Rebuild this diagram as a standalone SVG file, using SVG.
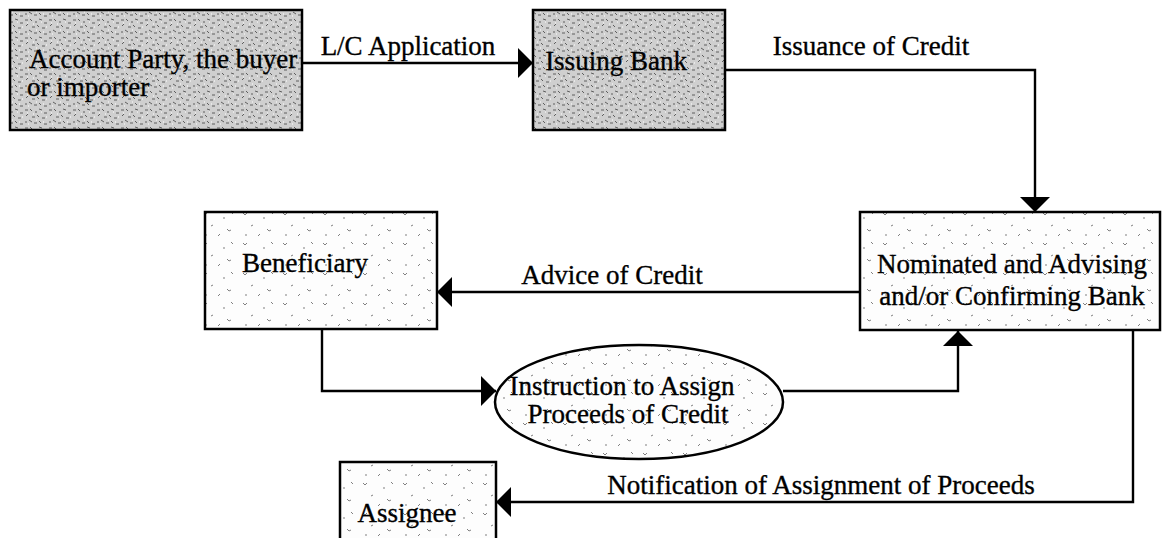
<svg xmlns="http://www.w3.org/2000/svg" width="1164" height="538" viewBox="0 0 1164 538">
  <style>
    .box { stroke: #000; stroke-width: 2.5; }
    .dense { fill: url(#speckleDense); }
    .light { fill: url(#speckleLight); }
    .label { font-family: "Liberation Serif", "Times New Roman", serif; font-size: 27px; fill: #000; stroke: #000; stroke-width: 0.35; }
    .mid { text-anchor: middle; }
    .wire { fill: none; stroke: #000; stroke-width: 2.4; }
  </style>
  <defs>
    <!-- grainy fill for the upper boxes -->
    <pattern id="speckleDense" width="24" height="18" patternUnits="userSpaceOnUse">
      <rect width="24" height="18" fill="#cfcfcf"/>
      <path d="M1 2h3M6 1l2 2M11 4h2M15 1l3 1M20 5h3M2 8l2-2M8 9h3M13 7l2 2M18 10h3M1 14h2M5 12l3 2M10 15h3M15 13l2 2M20 16h3" stroke="#5e5e5e" stroke-width="1" fill="none"/>
      <path d="M3 5h1M9 6h1M17 4h1M22 9h1M4 16h1M12 12h1M19 14h1" stroke="#fff" stroke-width="1"/>
    </pattern>
    <!-- sparse speckles for the other shapes -->
    <pattern id="speckleLight" width="40" height="30" patternUnits="userSpaceOnUse">
      <rect width="40" height="30" fill="#fdfdfd"/>
      <path d="M3 3l2 2 2-2M23 8h2M31 2l2 2M11 16l2-1M27 19l2 2 2-1M5 25h2M18 26l2-2" stroke="#808080" stroke-width="1" fill="none"/>
    </pattern>
    <marker id="head" markerUnits="userSpaceOnUse" markerWidth="15" markerHeight="30" viewBox="0 0 15 30" refX="15" refY="15" orient="auto">
      <path d="M0 0L15 15L0 30Z" fill="#000"/>
    </marker>
  </defs>

  <g id="connectors">
    <path class="wire" d="M302 63H533" marker-end="url(#head)"/>
    <path class="wire" d="M725 70H1035V212" marker-end="url(#head)"/>
    <path class="wire" d="M860 292H437" marker-end="url(#head)"/>
    <path class="wire" d="M322 329V391H496" marker-end="url(#head)"/>
    <path class="wire" d="M783 391H958V331" marker-end="url(#head)"/>
    <path class="wire" d="M1133 330V502H496" marker-end="url(#head)"/>
    <text class="label mid" x="408" y="55">L/C Application</text>
    <text class="label mid" x="871" y="55">Issuance of Credit</text>
    <text class="label mid" x="612" y="284">Advice of Credit</text>
    <text class="label mid" x="821" y="494">Notification of Assignment of Proceeds</text>
  </g>

  <g id="account-party">
    <rect class="box dense" x="10" y="10" width="292" height="120"/>
    <text class="label" x="29" y="68">Account Party, the buyer</text>
    <text class="label" x="27" y="96">or importer</text>
  </g>

  <g id="issuing-bank">
    <rect class="box dense" x="533" y="10" width="192" height="120"/>
    <text class="label mid" x="616" y="70">Issuing Bank</text>
  </g>

  <g id="nominated-bank">
    <rect class="box light" x="860" y="212" width="300" height="118"/>
    <text class="label mid" x="1012" y="273">Nominated and Advising</text>
    <text class="label mid" x="1012" y="305">and/or Confirming Bank</text>
  </g>

  <g id="beneficiary">
    <rect class="box light" x="205" y="212" width="232" height="117"/>
    <text class="label mid" x="305" y="272">Beneficiary</text>
  </g>

  <g id="instruction">
    <ellipse class="box light" cx="639" cy="402" rx="144" ry="57"/>
    <text class="label mid" x="622" y="395">Instruction to Assign</text>
    <text class="label mid" x="628" y="423">Proceeds of Credit</text>
  </g>

  <g id="assignee">
    <rect class="box light" x="340" y="462" width="156" height="90"/>
    <text class="label mid" x="407" y="522">Assignee</text>
  </g>
</svg>
